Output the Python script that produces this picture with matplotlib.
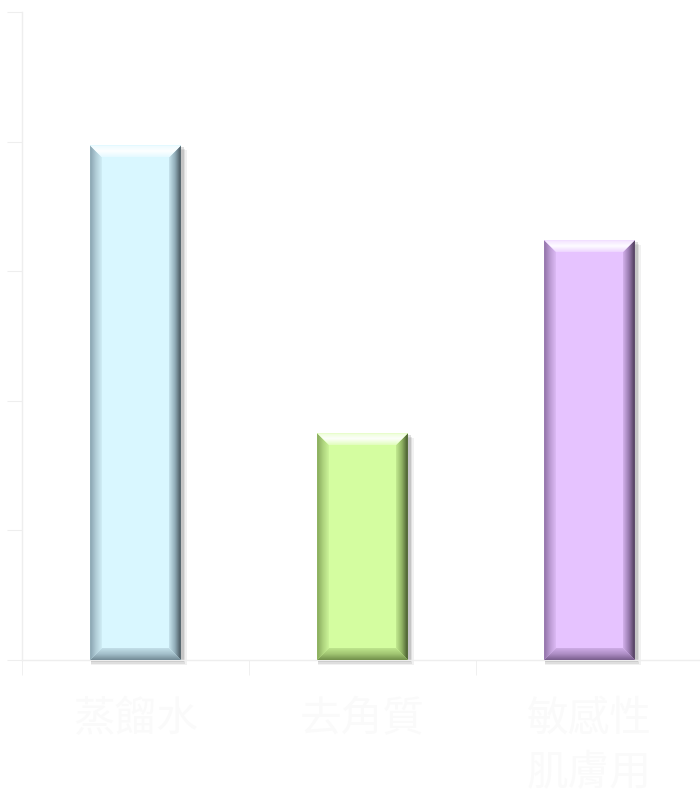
import numpy as np
import matplotlib.pyplot as plt
from matplotlib.patches import Polygon, Rectangle
import matplotlib.colors as mcolors

categories = ['蒸餾水', '去角質', '敏感性\n肌膚用']
values = [39.7, 17.5, 32.4]
yticks = [0, 10, 20, 30, 40, 50]
face_colors = ['#d9f7ff', '#d4fda0', '#e6c3ff']
edge_colors = ['#7f99a6', '#7d9f52', '#86689c']

plt.rcParams['font.family'] = ['Noto Sans CJK TC', 'DejaVu Sans']


def mix(c1, c2, t):
    a = np.array(mcolors.to_rgb(c1))
    b = np.array(mcolors.to_rgb(c2))
    return a * (1 - t) + b * t


def gradient(ax, poly, extent, stops, horizontal, z=3):
    # small colour ramp painted inside a clip polygon
    n = 64
    t = np.linspace(0, 1, n)
    pos = np.linspace(0, 1, len(stops))
    rgb = np.stack([np.interp(t, pos, [s[i] for s in stops]) for i in range(3)], axis=-1)
    if horizontal:
        img = rgb[np.newaxis, :, :]
    else:
        img = rgb[::-1][:, np.newaxis, :]
    im = ax.imshow(img, extent=extent, aspect='auto', interpolation='bilinear',
                   zorder=z, origin='upper')
    im.set_clip_path(poly)


fig = plt.figure(figsize=(7, 7.99), dpi=100)
ax = fig.add_axes([22 / 700, 139 / 799, 681 / 700, 648 / 799])
x = np.arange(len(categories))
bars = ax.bar(x, values, width=0.4, color=face_colors, zorder=2)
ax.set_xlim(-0.5, 2.5)
ax.set_ylim(yticks[0], yticks[-1])

# data units per pixel
px = 3 / 681
py = (yticks[-1] - yticks[0]) / 648
bev = 12

for bar, fc, ec in zip(bars, face_colors, edge_colors):
    x0 = bar.get_x()
    x1 = x0 + bar.get_width()
    y0 = 0
    y1 = bar.get_height()
    bx, by = bev * px, bev * py

    # soft drop shadow
    for k, a in zip([5, 3.5, 2], [0.08, 0.12, 0.18]):
        sh = Rectangle((x0 + 1 * px, y0 - k * py), bar.get_width() + k * px, y1,
                       facecolor='#555555', edgecolor='none', alpha=a,
                       zorder=1, clip_on=False)
        ax.add_patch(sh)

    top = Polygon([(x0, y1), (x1, y1), (x1 - bx, y1 - by), (x0 + bx, y1 - by)],
                  closed=True, facecolor='none', edgecolor='none', transform=ax.transData)
    bottom = Polygon([(x0, y0), (x1, y0), (x1 - bx, y0 + by), (x0 + bx, y0 + by)],
                     closed=True, facecolor='none', edgecolor='none', transform=ax.transData)
    left = Polygon([(x0, y0), (x0, y1), (x0 + bx, y1 - by), (x0 + bx, y0 + by)],
                   closed=True, facecolor='none', edgecolor='none', transform=ax.transData)
    right = Polygon([(x1, y0), (x1, y1), (x1 - bx, y1 - by), (x1 - bx, y0 + by)],
                    closed=True, facecolor='none', edgecolor='none', transform=ax.transData)
    for p in (top, bottom, left, right):
        ax.add_patch(p)

    gradient(ax, left, [x0, x0 + bx, y0, y1],
             [mix(fc, ec, 0.9), mix(fc, ec, 0.45), mix(fc, ec, 0.1)], True)
    gradient(ax, right, [x1 - bx, x1, y0, y1],
             [mix(fc, ec, 0.2), mix(fc, ec, 0.8), mix(ec, 'black', 0.45)], True)
    gradient(ax, bottom, [x0, x1, y0, y0 + by],
             [mix(ec, 'black', 0.1), mix(fc, ec, 0.6), mix(fc, ec, 0.25)], False, z=3.5)
    gradient(ax, top, [x0, x1, y1 - by, y1],
             [mix(fc, 'white', 0.3), mix(fc, 'white', 0.95), mix(fc, 'white', 0.5)], False, z=3.5)

ax.set_xlim(-0.5, 2.5)
ax.set_ylim(yticks[0], yticks[-1])

for side in ('top', 'right'):
    ax.spines[side].set_visible(False)
for side in ('left', 'bottom'):
    ax.spines[side].set_color('#eeeeee')
    ax.spines[side].set_linewidth(1)

ax.set_yticks(yticks)
ax.tick_params(axis='y', length=11, color='#eeeeee', labelleft=False)
ax.set_xticks(x, categories)
ax.set_xticks([-0.5, 0.5, 1.5], minor=True)
ax.tick_params(axis='x', which='major', length=0, pad=28, labelsize=30,
               labelcolor='#fafafa')
ax.tick_params(axis='x', which='minor', length=11, color='#eeeeee')
for lab in ax.get_xticklabels():
    lab.set_linespacing(1.4)

fig.savefig('out.png', dpi=100)
